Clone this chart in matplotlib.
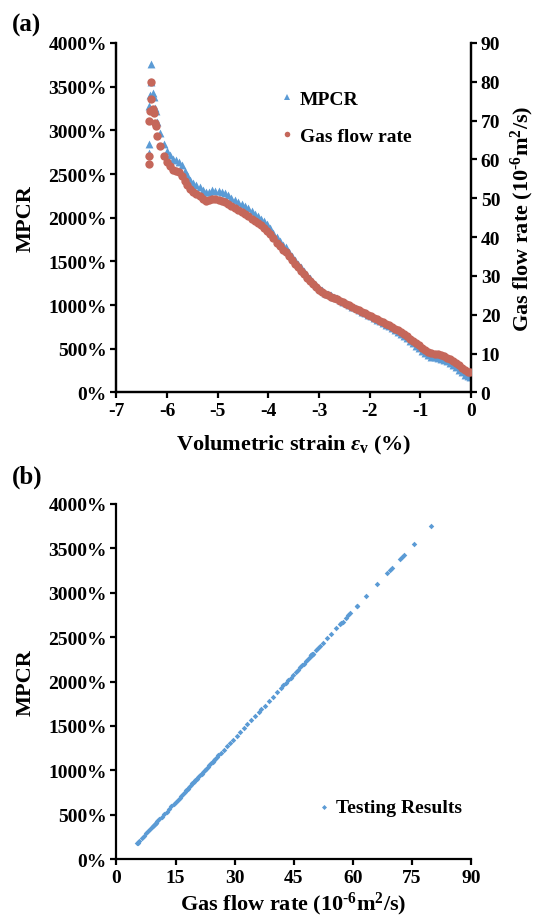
import matplotlib
matplotlib.use("Agg")
import matplotlib.pyplot as plt
from matplotlib.lines import Line2D
from matplotlib.ticker import FuncFormatter, MultipleLocator

# volumetric strain (%) of each reading
strain = [-6.36, -6.36, -6.35, -6.34, -6.32, -6.31, -6.28, -6.26, -6.24, -6.22,
          -6.19, -6.14, -6.06, -6.01, -5.95, -5.88, -5.82, -5.76, -5.70, -5.65,
          -5.60, -5.55, -5.48, -5.42, -5.36, -5.30, -5.24, -5.18, -5.12, -5.05,
          -4.98, -4.92, -4.86, -4.80, -4.73, -4.66, -4.60, -4.53, -4.46, -4.40,
          -4.33, -4.26, -4.20, -4.14, -4.08, -4.02, -3.96, -3.90, -3.84, -3.78,
          -3.72,
          -3.66, -3.60, -3.54, -3.48, -3.42, -3.36, -3.30, -3.24, -3.18, -3.12,
          -3.06, -3.00, -2.94, -2.88, -2.82, -2.76, -2.70, -2.64, -2.58, -2.52,
          -2.46, -2.40, -2.34, -2.28, -2.22, -2.16, -2.10, -2.04, -1.98, -1.92,
          -1.86, -1.80, -1.74, -1.68, -1.62, -1.56, -1.50, -1.44, -1.38, -1.32,
          -1.26, -1.20, -1.14, -1.08, -1.02, -0.96, -0.90, -0.84, -0.78, -0.72,
          -0.66, -0.60, -0.54, -0.48, -0.42, -0.36, -0.30, -0.24, -0.18, -0.12,
          -0.06, -0.02]

# gas flow rate (10^-6 m2/s)
gas_rate = [58.8, 61.0, 70.0, 72.6, 79.9, 75.6, 73.0, 72.0, 69.4, 68.7,
            66.1, 63.4, 61.0, 59.3, 58.2, 57.4, 57.1, 56.7, 55.8, 54.5,
            53.4, 52.4, 51.6, 51.1, 50.6, 49.8, 49.4, 49.5, 49.8, 49.7,
            49.6, 49.4, 49.1, 48.6, 48.1, 47.5, 47.1, 46.6, 46.0, 45.5,
            44.8, 44.2, 43.6, 43.0, 42.4, 41.7, 40.8, 39.7, 38.6, 37.6,
            36.8,
            36.2, 35.2, 34.2, 33.2, 32.3, 31.4, 30.5, 29.6, 28.8, 28.0,
            27.2, 26.5, 25.9, 25.4, 25.0, 24.7, 24.4, 24.0, 23.6, 23.2,
            22.8, 22.4, 22.0, 21.6, 21.2, 20.8, 20.4, 20.0, 19.7, 19.3,
            18.9, 18.5, 18.1, 17.7, 17.3, 16.9, 16.4, 16.0, 15.5, 15.0,
            14.5, 13.9, 13.3, 12.7, 12.1, 11.5, 10.9, 10.4, 10.1, 9.95,
            9.8, 9.6, 9.3, 9.0, 8.6, 8.1, 7.6, 7.0, 6.4, 5.8,
            5.4, 5.2]

# MPCR (%)
mpcr = [2744, 2849, 3280, 3405, 3754, 3548, 3424, 3376, 3251, 3218,
        3093, 2964, 2849, 2767, 2715, 2676, 2662, 2643, 2600, 2538,
        2485, 2437, 2399, 2375, 2351, 2312, 2293, 2298, 2312, 2308,
        2303, 2293, 2279, 2255, 2231, 2202, 2183, 2159, 2130, 2106,
        2073, 2044, 2015, 1987, 1958, 1924, 1881, 1829, 1776, 1728,
        1690,
        1661, 1613, 1565, 1517, 1474, 1431, 1388, 1345, 1307, 1268,
        1230, 1196, 1168, 1144, 1125, 1110, 1096, 1077, 1057, 1038,
        1019, 1000, 981, 962, 942, 923, 904, 885, 871, 851,
        832, 813, 794, 775, 756, 737, 713, 693, 669, 646,
        622, 593, 564, 535, 507, 478, 449, 425, 411, 404,
        396, 387, 372, 358, 339, 315, 291, 262, 234, 205,
        186, 176]

BLUE = "#5B9BD5"
RED = "#C5675A"

plt.rcParams["font.family"] = ["Liberation Serif", "DejaVu Serif"]
plt.rcParams["font.weight"] = "bold"
plt.rcParams["axes.unicode_minus"] = False
plt.rcParams["mathtext.fontset"] = "custom"
plt.rcParams["mathtext.rm"] = "Liberation Serif:bold"
plt.rcParams["mathtext.it"] = "Liberation Serif:italic:bold"
plt.rcParams["mathtext.bf"] = "Liberation Serif:bold"

TICK_FS = 14
LABEL_FS = 16
GAS_LABEL = "Gas flow rate (10$^{\u2010 6}$m$^{2}$/s)"

pct = FuncFormatter(lambda v, p: f"{v:.0f}%")


def style_axis(ax):
    for s in ax.spines.values():
        s.set_linewidth(1.6)
    ax.tick_params(direction="out", length=4, width=1.6, labelsize=TICK_FS, pad=3)
    for lab in ax.get_xticklabels() + ax.get_yticklabels():
        lab.set_fontweight("bold")


fig = plt.figure(figsize=(5.39, 9.2), dpi=100)

# ---- (a) ----
ax1 = fig.add_axes([0.2161, 0.5723, 0.6577, 0.3799])
ax1.scatter(strain, mpcr, marker="^", s=32, color=BLUE, linewidths=0, zorder=2)
ax1.set_xlim(-7, 0)
ax1.set_ylim(0, 4000)
ax1.xaxis.set_major_locator(MultipleLocator(1))
ax1.yaxis.set_major_locator(MultipleLocator(500))
ax1.yaxis.set_major_formatter(pct)
ax1.spines["top"].set_visible(False)
ax1.set_ylabel("MPCR", fontsize=LABEL_FS, fontweight="bold", labelpad=9)
ax1.set_xlabel(r"Volumetric strain $\mathit{\varepsilon}_{\mathrm{v}}$ (%)",
               fontsize=LABEL_FS, fontweight="bold", labelpad=10)
style_axis(ax1)

ax2 = ax1.twinx()
ax2.scatter(strain, gas_rate, marker="o", s=36, color=RED, linewidths=0, zorder=3)
ax2.set_ylim(0, 90)
ax2.yaxis.set_major_locator(MultipleLocator(10))
ax2.spines["top"].set_visible(False)
ax2.set_ylabel(GAS_LABEL, fontsize=LABEL_FS, fontweight="bold", labelpad=6)
style_axis(ax2)

handles = [Line2D([], [], ls="none", marker="^", ms=4, color=BLUE, mew=0),
           Line2D([], [], ls="none", marker="o", ms=4, color=RED, mew=0)]
ax2.legend(handles, ["MPCR", "Gas flow rate"], loc="upper left",
           bbox_to_anchor=(0.415, 0.915), frameon=False, handlelength=0.6,
           handletextpad=0.35, labelspacing=1.0,
           prop={"family": "Liberation Serif", "weight": "bold", "size": TICK_FS})

fig.text(0.022, 0.972, "(a)", fontsize=18, fontweight="bold", va="center")

# ---- (b) ----
ax3 = fig.add_axes([0.2161, 0.0652, 0.6577, 0.3859])
ax3.scatter(gas_rate, mpcr, marker="D", s=8, color=BLUE, linewidths=0,
            label="Testing Results")
ax3.set_xlim(0, 90)
ax3.set_ylim(0, 4000)
ax3.xaxis.set_major_locator(MultipleLocator(15))
ax3.yaxis.set_major_locator(MultipleLocator(500))
ax3.yaxis.set_major_formatter(pct)
ax3.spines["top"].set_visible(False)
ax3.spines["right"].set_visible(False)
ax3.set_ylabel("MPCR", fontsize=LABEL_FS, fontweight="bold", labelpad=9)
ax3.set_xlabel(GAS_LABEL, fontsize=LABEL_FS, fontweight="bold", labelpad=3)
style_axis(ax3)
ax3.legend(loc="center left", bbox_to_anchor=(0.52, 0.146), frameon=False,
           handlelength=0.6, handletextpad=0.3, markerscale=0.9,
           prop={"family": "Liberation Serif", "weight": "bold", "size": TICK_FS})

fig.text(0.022, 0.481, "(b)", fontsize=18, fontweight="bold", va="center")

fig.savefig("out.png", dpi=100)
